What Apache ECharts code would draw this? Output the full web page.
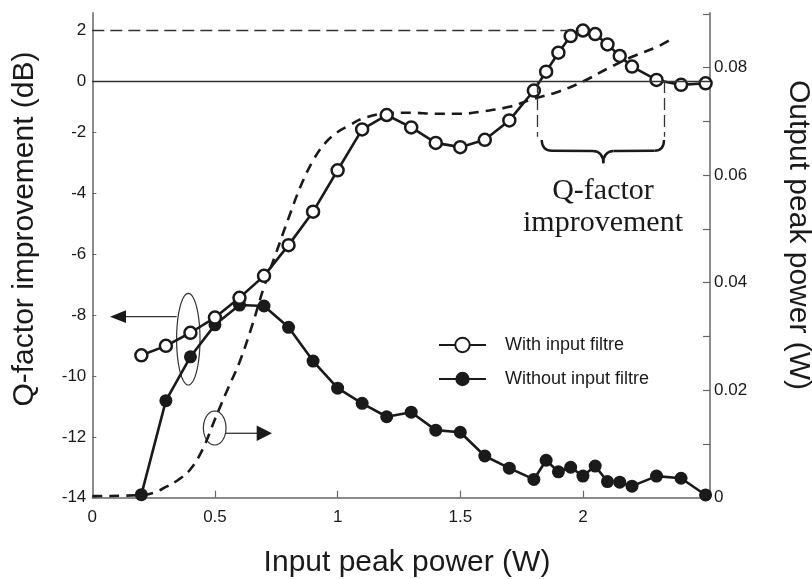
<!DOCTYPE html>
<html>
<head>
<meta charset="utf-8">
<script src="https://cdn.jsdelivr.net/npm/echarts@6/dist/echarts.min.js"></script>
<style>
html,body{margin:0;padding:0;background:#fff;}
#c{width:812px;height:579px;}
</style>
</head>
<body>
<div id="c"></div>
<script>
// ---------------- data ----------------
const inputPower = [0.2,0.3,0.4,0.5,0.6,0.7,0.8,0.9,1.0,1.1,1.2,1.3,1.4,1.5,1.6,1.7,1.8,1.85,1.9,1.95,2.0,2.05,2.1,2.15,2.2,2.3,2.4,2.5];
const qWithFilter = [-9.32,-9.01,-8.58,-8.08,-7.43,-6.71,-5.70,-4.60,-3.24,-1.88,-1.32,-1.80,-2.34,-2.48,-2.24,-1.53,-0.37,0.37,1.12,1.78,2.0,1.86,1.45,0.99,0.57,0.04,-0.15,-0.09];
const qWithoutFilter = [-13.9,-10.81,-9.37,-8.32,-7.67,-7.70,-8.40,-9.51,-10.40,-10.90,-11.34,-11.19,-11.78,-11.85,-12.63,-13.03,-13.40,-12.77,-13.15,-13.00,-13.29,-12.96,-13.47,-13.49,-13.62,-13.29,-13.36,-13.91];
const outInputPower = [0,0.2,0.25,0.3,0.35,0.4,0.45,0.5,0.55,0.6,0.65,0.7,0.75,0.8,0.85,0.9,0.95,1.0,1.05,1.1,1.2,1.3,1.4,1.5,1.6,1.7,1.8,1.9,2.0,2.1,2.2,2.3,2.35];
const outPeakPower = [0.0003,0.0005,0.0009,0.0020,0.0033,0.0053,0.0090,0.0146,0.0200,0.0252,0.0318,0.0392,0.0456,0.0520,0.0580,0.0627,0.0660,0.0680,0.0693,0.0705,0.0715,0.0716,0.0714,0.0714,0.0719,0.0727,0.0742,0.0755,0.0774,0.0798,0.0820,0.0838,0.0850];
const xTickLabels = [0,0.5,1,1.5,2];
const qTickLabels = [-14,-12,-10,-8,-6,-4,-2,0,2];
const pTickLabels = [0,0.02,0.04,0.06,0.08];
const pMinorTicks = [0.01,0.02,0.03,0.04,0.05,0.06,0.07,0.08,0.09];
const seriesNames = ['With input filtre','Without input filtre'];

// The original figure's dB axis is not uniform above -2 dB: piecewise scale knots
const qScaleDb   = [-14, -2, 0, 2];
const qScaleAxis = [-14, -2, -0.306, 1.353];
const Q_AXIS_TOP = 1.938;
function interp(v, xs, ys){
  let i = 0;
  while (i < xs.length - 2 && v > xs[i+1]) i++;
  return ys[i] + (v - xs[i]) * (ys[i+1]-ys[i]) / (xs[i+1]-xs[i]);
}
const qAxis = v => interp(v, qScaleDb, qScaleAxis);
const qFromAxis = a => interp(a, qScaleAxis, qScaleDb);

const X_MAX = 2.518;
const P_MAX = 0.0902;

const FONT = "'Liberation Sans', Arial, sans-serif";
const SERIF = "'Liberation Serif', 'Times New Roman', serif";
const INK = '#1a1a1a';
const AXIS = '#666';

function ellipsePts(cx, cy, rx, ry){
  const pts = [];
  for (let k = 0; k < 72; k++) {
    const t = k / 72 * Math.PI * 2;
    pts.push([cx + rx*Math.cos(t), cy + ry*Math.sin(t)]);
  }
  return pts;
}

const chart = echarts.init(document.getElementById('c'), null, {renderer:'canvas'});

const withPts = inputPower.map((x,i)=>[x, qAxis(qWithFilter[i])]);
const withoutPts = inputPower.map((x,i)=>[x, qAxis(qWithoutFilter[i])]);
const outPts = outInputPower.map((x,i)=>[x, outPeakPower[i]]);

const braceStyle = {fill:'none', stroke:INK, lineWidth:2.4};

const option = {
  backgroundColor:'#fff',
  animation:false,
  grid:{left:92.3, right:102, top:12.7, bottom:81.3, containLabel:false},
  legend:{
    data:seriesNames, orient:'vertical', left:433, top:331,
    itemWidth:47, itemHeight:18, itemGap:16, selectedMode:false,
    textStyle:{fontSize:18, color:INK, fontFamily:FONT, padding:[0,0,0,14]}
  },
  xAxis:{
    type:'value', min:0, max:X_MAX,
    axisLine:{show:true, onZero:false, lineStyle:{color:AXIS, width:1.5}},
    axisTick:{show:true, inside:true, length:7, customValues:[0.5,1,1.5,2], lineStyle:{color:AXIS, width:1.2}},
    axisLabel:{customValues:xTickLabels, margin:11, fontSize:17, color:INK, fontFamily:FONT,
      formatter:v=>String(Math.round(v*10)/10)},
    splitLine:{show:false}
  },
  yAxis:[{
    type:'value', min:-14, max:Q_AXIS_TOP, position:'left',
    axisLine:{show:true, onZero:false, lineStyle:{color:AXIS, width:1.5}},
    axisTick:{show:true, inside:true, length:4, customValues:qTickLabels.map(qAxis), lineStyle:{color:AXIS, width:1}},
    axisLabel:{customValues:qTickLabels.map(qAxis), margin:6, fontSize:17, color:INK, fontFamily:FONT,
      formatter:a=>String(Math.round(qFromAxis(a)))},
    splitLine:{show:false}
  },{
    type:'value', min:0, max:P_MAX, position:'right',
    axisLine:{show:true, onZero:false, lineStyle:{color:AXIS, width:1.5}},
    axisTick:{show:true, inside:true, length:7, customValues:pMinorTicks, lineStyle:{color:AXIS, width:1.2}},
    axisLabel:{customValues:pTickLabels, margin:4, fontSize:17, color:INK, fontFamily:FONT,
      formatter:v=> v===0 ? '0' : v.toFixed(2)},
    splitLine:{show:false}
  }],
  series:[{
    name:seriesNames[0], type:'line', data:withPts, clip:false,
    symbol:'circle', symbolSize:12,
    lineStyle:{color:INK, width:2.6},
    itemStyle:{color:'#fff', borderColor:INK, borderWidth:2.5},
    z:4,
    markLine:{
      silent:true, symbol:['none','none'], label:{show:false},
      lineStyle:{color:'#333', width:1.4, type:'solid'},
      data:[
        [{coord:[0,qAxis(0)]},{coord:[X_MAX,qAxis(0)]}],
        [{coord:[0,qAxis(2)], lineStyle:{type:[12,6], width:1.3}},{coord:[1.985,qAxis(2)]}],
        [{coord:[1.814,qAxis(0)], lineStyle:{type:[12,5], width:1.3}},{coord:[1.814,qAxis(-2.137)]}],
        [{coord:[2.332,qAxis(0)], lineStyle:{type:[12,5], width:1.3}},{coord:[2.332,qAxis(-2.137)]}]
      ]
    }
  },{
    name:seriesNames[1], type:'line', data:withoutPts, clip:false,
    symbol:'circle', symbolSize:13,
    lineStyle:{color:INK, width:2.6},
    itemStyle:{color:INK},
    z:3
  },{
    name:'Output peak power', type:'line', yAxisIndex:1, data:outPts,
    symbol:'none', smooth:0.4,
    lineStyle:{color:INK, width:2.6, type:[10,7]},
    z:2
  }],
  graphic:[
    // axis titles
    {type:'text', x:24.5, y:229, rotation:Math.PI/2,
      style:{text:'Q-factor improvement (dB)', fontSize:30, fontFamily:FONT, fill:INK, textAlign:'center', textVerticalAlign:'middle'}},
    {type:'text', x:798, y:235, rotation:-Math.PI/2,
      style:{text:'Output peak power (W)', fontSize:30, fontFamily:FONT, fill:INK, textAlign:'center', textVerticalAlign:'middle'}},
    {type:'text', x:407, y:563,
      style:{text:'Input peak power (W)', fontSize:30, fontFamily:FONT, fill:INK, textAlign:'center', textVerticalAlign:'middle'}},
    // curly brace under the Q-factor improvement region
    {type:'bezierCurve', shape:{x1:541.7, y1:140, cpx1:542, cpy1:150.7, x2:552, y2:150.7}, style:braceStyle},
    {type:'line', shape:{x1:552, y1:150.7, x2:593, y2:151}, style:braceStyle},
    {type:'bezierCurve', shape:{x1:593, y1:151, cpx1:603.3, cpy1:151.5, x2:603.3, y2:163.3}, style:braceStyle},
    {type:'bezierCurve', shape:{x1:603.3, y1:163.3, cpx1:603.3, cpy1:151.5, x2:613.6, y2:151}, style:braceStyle},
    {type:'line', shape:{x1:613.6, y1:151, x2:654.5, y2:150.7}, style:braceStyle},
    {type:'bezierCurve', shape:{x1:654.5, y1:150.7, cpx1:664, cpy1:150.7, x2:664, y2:140}, style:braceStyle},
    {type:'text', x:603, y:191,
      style:{text:'Q-factor', fontSize:30, fontFamily:SERIF, fill:INK, textAlign:'center', textVerticalAlign:'middle'}},
    {type:'text', x:603, y:223,
      style:{text:'improvement', fontSize:30, fontFamily:SERIF, fill:INK, textAlign:'center', textVerticalAlign:'middle'}},
    // ellipse + arrow pointing to left axis
    {type:'polygon', shape:{points:ellipsePts(188.3, 339.2, 11.7, 45.8)}, style:{fill:'none', stroke:'#333', lineWidth:1.2}},
    {type:'line', shape:{x1:176.7, y1:316.7, x2:124, y2:316.7}, style:{stroke:'#333', lineWidth:1.3}},
    {type:'polygon', shape:{points:[[110,316.7],[126,310.3],[126,323.1]]}, style:{fill:INK}},
    // ellipse + arrow pointing to right axis
    {type:'polygon', shape:{points:ellipsePts(214.7, 428, 11.3, 17)}, style:{fill:'none', stroke:'#333', lineWidth:1.2}},
    {type:'line', shape:{x1:226, y1:433.3, x2:258, y2:433.3}, style:{stroke:'#333', lineWidth:1.3}},
    {type:'polygon', shape:{points:[[272,433.3],[256.7,425.5],[256.7,441.1]]}, style:{fill:INK}}
  ]
};
chart.setOption(option);
</script>
</body>
</html>
